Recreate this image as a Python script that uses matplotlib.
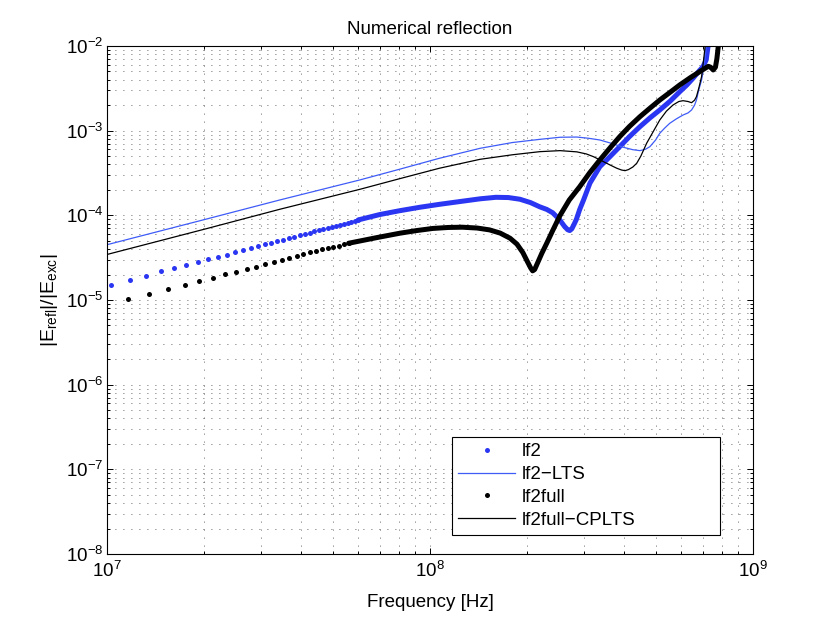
import matplotlib
matplotlib.use("Agg")
import matplotlib.pyplot as plt
from matplotlib.ticker import LogLocator, NullFormatter

plt.rcParams['font.family'] = ['Liberation Sans', 'DejaVu Sans']
plt.rcParams['mathtext.fontset'] = 'custom'
plt.rcParams['mathtext.rm'] = 'Liberation Sans'
plt.rcParams['mathtext.it'] = 'Liberation Sans:italic'

x_ticks = [1e7, 1e8, 1e9]
y_ticks = [1e-8, 1e-7, 1e-6, 1e-5, 1e-4, 1e-3, 1e-2]

# lf2 -- individual dots at low frequency (Hz)
lf2_f = [10.30e6, 11.76e6, 13.22e6, 14.68e6, 16.14e6, 17.60e6, 19.06e6, 20.52e6,
         21.98e6, 23.44e6, 24.90e6, 26.36e6, 27.82e6, 29.28e6, 30.74e6, 32.20e6,
         33.66e6, 35.12e6, 36.58e6, 38.04e6, 39.50e6, 40.96e6, 42.42e6, 43.88e6,
         45.34e6, 46.80e6, 48.26e6, 49.72e6, 51.18e6, 52.64e6, 54.10e6, 55.56e6,
         57.02e6, 58.48e6, 59.94e6]
lf2_v = [1.52e-5, 1.74e-5, 1.94e-5, 2.19e-5, 2.39e-5, 2.59e-5, 2.84e-5, 3.03e-5,
         3.23e-5, 3.44e-5, 3.66e-5, 3.87e-5, 4.12e-5, 4.32e-5, 4.53e-5, 4.74e-5,
         4.95e-5, 5.18e-5, 5.38e-5, 5.60e-5, 5.81e-5, 6.03e-5, 6.24e-5, 6.46e-5,
         6.67e-5, 6.885e-5, 7.10e-5, 7.31e-5, 7.53e-5, 7.74e-5, 7.96e-5, 8.17e-5,
         8.39e-5, 8.60e-5, 8.82e-5]
# lf2 -- dense part where the dots merge into a thick trace
lf2_dense_f = [59.94e6, 70e6, 80.7e6, 93e6, 107e6, 125e6, 143e6, 160e6, 175e6,
               190e6, 205e6, 219e6, 230e6, 240e6, 252e6, 261e6, 267e6, 271e6,
               275e6, 280e6, 284e6, 291e6, 299e6, 313e6, 336e6, 361e6, 387e6,
               415e6, 447e6, 480e6, 515e6, 555e6, 594e6, 625e6, 653e6, 680e6,
               701e6, 717e6, 727e6, 740e6]
lf2_dense_v = [8.82e-5, 1.023e-4, 1.135e-4, 1.245e-4, 1.349e-4, 1.462e-4, 1.567e-4,
               1.633e-4, 1.622e-4, 1.549e-4, 1.413e-4, 1.259e-4, 1.175e-4, 1.072e-4,
               8.91e-5, 7.41e-5, 6.76e-5, 6.61e-5, 6.92e-5, 7.94e-5, 8.91e-5,
               1.175e-4, 1.514e-4, 2.40e-4, 3.76e-4, 4.93e-4, 6.47e-4, 8.51e-4,
               1.114e-3, 1.413e-3, 1.754e-3, 2.239e-3, 2.884e-3, 3.467e-3, 4.16e-3,
               5.01e-3, 5.70e-3, 6.84e-3, 1.0e-2, 1.6e-2]

# lf2-LTS
lts_f = [10e6, 20e6, 34.3e6, 60.7e6, 80e6, 107e6, 143e6, 180e6, 219e6, 253e6,
         285e6, 310e6, 336e6, 365e6, 397e6, 425e6, 447e6, 465e6, 480e6, 500e6,
         515e6, 533e6, 553e6, 580e6, 608e6, 630e6, 646e6, 660e6, 669e6, 680e6,
         694e6, 703e6, 710e6, 718e6, 730e6]
lts_v = [4.5e-5, 8.9e-5, 1.52e-4, 2.62e-4, 3.48e-4, 4.72e-4, 6.19e-4, 7.24e-4,
         7.9e-4, 8.36e-4, 8.41e-4, 8.13e-4, 7.76e-4, 7.08e-4, 6.37e-4, 5.96e-4,
         5.81e-4, 6.03e-4, 6.47e-4, 7.76e-4, 9.31e-4, 1.07e-3, 1.222e-3, 1.38e-3,
         1.53e-3, 1.62e-3, 1.754e-3, 2.0e-3, 2.30e-3, 3.02e-3, 3.97e-3, 5.37e-3,
         6.84e-3, 1.0e-2, 1.6e-2]

# lf2full -- individual dots
full_f = [11.60e6, 13.53e6, 15.46e6, 17.39e6, 19.32e6, 21.25e6, 23.18e6, 25.11e6,
          27.04e6, 28.97e6, 30.90e6, 32.83e6, 34.76e6, 36.69e6, 38.62e6, 40.55e6,
          42.48e6, 44.41e6, 46.34e6, 48.27e6, 50.20e6, 52.13e6, 54.06e6, 55.99e6]
full_v = [1.02e-5, 1.18e-5, 1.35e-5, 1.51e-5, 1.68e-5, 1.84e-5, 2.01e-5, 2.16e-5,
          2.31e-5, 2.48e-5, 2.65e-5, 2.82e-5, 2.97e-5, 3.11e-5, 3.34e-5, 3.50e-5,
          3.66e-5, 3.82e-5, 3.98e-5, 4.12e-5, 4.26e-5, 4.40e-5, 4.54e-5, 4.68e-5]
# lf2full -- dense part
full_dense_f = [55.99e6, 68e6, 80.7e6, 91e6, 102e6, 114e6, 126e6, 140e6, 153e6,
                165e6, 177e6, 186e6, 194e6, 200e6, 205e6, 208e6, 211e6, 215e6,
                222e6, 230e6, 240e6, 253e6, 270e6, 291e6, 312e6, 336e6, 360e6,
                387e6, 415e6, 447e6, 480e6, 515e6, 555e6, 594e6, 640e6, 685e6,
                710e6, 728e6, 740e6, 754e6, 766e6, 774e6, 782e6, 792e6]
full_dense_v = [4.68e-5, 5.43e-5, 6.15e-5, 6.61e-5, 7.0e-5, 7.19e-5, 7.24e-5, 7.08e-5,
                6.73e-5, 6.17e-5, 5.37e-5, 4.57e-5, 3.63e-5, 2.88e-5, 2.40e-5, 2.21e-5,
                2.29e-5, 2.69e-5, 3.55e-5, 4.68e-5, 6.61e-5, 1.0e-4, 1.514e-4, 2.18e-4,
                3.16e-4, 4.51e-4, 6.17e-4, 8.49e-4, 1.122e-3, 1.462e-3, 1.841e-3,
                2.30e-3, 2.85e-3, 3.47e-3, 4.22e-3, 4.98e-3, 5.43e-3, 5.75e-3, 5.62e-3,
                5.21e-3, 5.62e-3, 7.08e-3, 1.0e-2, 1.6e-2]

# lf2full-CPLTS
cp_f = [10e6, 20e6, 34.3e6, 60.7e6, 80e6, 107e6, 143e6, 180e6, 219e6, 253e6,
        285e6, 305e6, 321e6, 340e6, 361e6, 379e6, 392e6, 402e6, 412e6, 425e6,
        437e6, 450e6, 469e6, 490e6, 515e6, 540e6, 566e6, 590e6, 608e6, 630e6,
        646e6, 660e6, 669e6, 680e6, 694e6, 704e6, 712e6, 725e6]
cp_v = [3.45e-5, 6.85e-5, 1.18e-4, 2.03e-4, 2.69e-4, 3.6e-4, 4.59e-4, 5.19e-4,
        5.65e-4, 5.81e-4, 5.62e-4, 5.31e-4, 4.93e-4, 4.42e-4, 3.94e-4, 3.6e-4,
        3.43e-4, 3.37e-4, 3.47e-4, 3.72e-4, 4.12e-4, 5.01e-4, 7.1e-4, 9.55e-4,
        1.336e-3, 1.70e-3, 2.01e-3, 2.21e-3, 2.26e-3, 2.21e-3, 2.14e-3, 2.29e-3,
        2.52e-3, 3.16e-3, 4.35e-3, 6.84e-3, 1.0e-2, 1.6e-2]

BLUE_DOT = '#2b36f2'
BLUE_LINE = '#3f5cf7'
FS = 13.5

fig = plt.figure(figsize=(8.3, 6.25), dpi=100)
ax = fig.add_axes([0.129, 0.1136, 0.778, 0.8128])

ax.plot(lf2_f, lf2_v, linestyle='none', marker='o', ms=3.6, mew=0,
        color=BLUE_DOT, label='lf2')
ax.plot(lf2_dense_f, lf2_dense_v, '-', lw=3.6, color=BLUE_DOT,
        solid_capstyle='round', solid_joinstyle='round')
ax.plot(lts_f, lts_v, '-', lw=0.9, color=BLUE_LINE, label='lf2\u2212LTS')
ax.plot(full_f, full_v, linestyle='none', marker='o', ms=3.6, mew=0,
        color='k', label='lf2full')
ax.plot(full_dense_f, full_dense_v, '-', lw=3.6, color='k',
        solid_capstyle='round', solid_joinstyle='round')
ax.plot(cp_f, cp_v, '-', lw=0.9, color='k', label='lf2full\u2212CPLTS')

ax.set_xscale('log')
ax.set_yscale('log')
ax.set_xticks(x_ticks)
ax.set_yticks(y_ticks)
ax.set_xlim(1e7, 1e9)
ax.set_ylim(1e-8, 1e-2)
ax.xaxis.set_minor_locator(LogLocator(base=10, subs=range(2, 10), numticks=20))
ax.yaxis.set_minor_locator(LogLocator(base=10, subs=range(2, 10), numticks=20))
ax.xaxis.set_minor_formatter(NullFormatter())
ax.yaxis.set_minor_formatter(NullFormatter())

ax.set_axisbelow(True)
ax.grid(True, which='both', linestyle=(0, (1, 8.6)), color='#333333', linewidth=0.6)
ax.tick_params(which='both', direction='in', top=True, right=True,
               labelsize=FS, width=0.7)
ax.tick_params(which='major', length=4.5)
ax.tick_params(which='minor', length=2.5)
ax.tick_params(axis='x', which='major', pad=5)
ax.tick_params(axis='y', which='major', pad=2.5)
for s in ax.spines.values():
    s.set_linewidth(0.8)

ax.set_title('Numerical reflection', fontsize=FS, pad=9)
ax.set_xlabel('Frequency [Hz]', fontsize=FS, labelpad=9)
ax.set_ylabel(r'$|\mathrm{E_{refl}}|/|\mathrm{E_{exc}}|$', fontsize=FS + 0.5)

# MATLAB-like legend box: wider than its contents, text left aligned
leg = ax.legend(loc='lower left', bbox_to_anchor=(0.534, 0.037, 0.415, 0.197),
                mode='expand', borderaxespad=0, fontsize=FS, numpoints=1,
                handlelength=3.0, handletextpad=0.4, labelspacing=0.3,
                fancybox=False, framealpha=1, edgecolor='k', borderpad=0.35)
leg.get_frame().set_linewidth(0.8)
for h in leg.legend_handles:
    if h.get_marker() == 'o':
        h.set_markersize(3.6)

fig.savefig('out.png', dpi=100)
